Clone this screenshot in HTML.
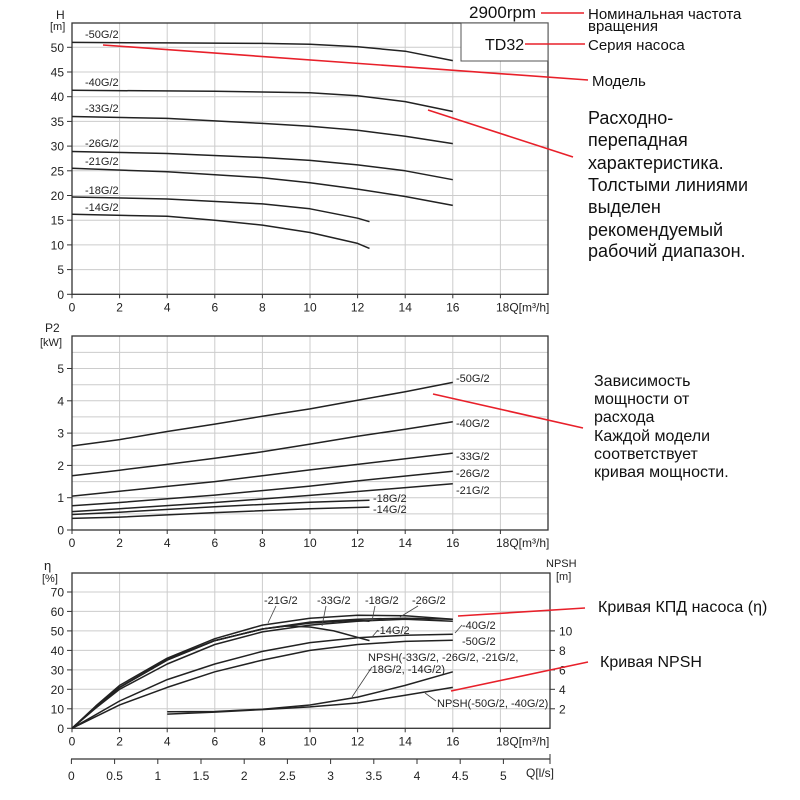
<!DOCTYPE html>
<html><head><meta charset="utf-8"><style>
body{margin:0;background:#fff}
svg{display:block;font-family:"Liberation Sans",Arial,sans-serif}
</style></head><body>
<svg width="800" height="800" viewBox="0 0 800 800" xmlns="http://www.w3.org/2000/svg">
<defs>
<g id="vg"><line x1="119.6" y1="0" x2="119.6" y2="1"/><line x1="167.2" y1="0" x2="167.2" y2="1"/><line x1="214.8" y1="0" x2="214.8" y2="1"/><line x1="262.4" y1="0" x2="262.4" y2="1"/><line x1="310" y1="0" x2="310" y2="1"/><line x1="357.6" y1="0" x2="357.6" y2="1"/><line x1="405.2" y1="0" x2="405.2" y2="1"/><line x1="452.8" y1="0" x2="452.8" y2="1"/><line x1="500.4" y1="0" x2="500.4" y2="1"/></g>
<g id="xt" font-size="12" fill="#222" text-anchor="middle">
<text x="72" y="17">0</text><text x="119.6" y="17">2</text><text x="167.2" y="17">4</text><text x="214.8" y="17">6</text><text x="262.4" y="17">8</text><text x="310" y="17">10</text><text x="357.6" y="17">12</text><text x="405.2" y="17">14</text><text x="452.8" y="17">16</text><text x="496" y="17" text-anchor="start">18Q[m³/h]</text>
<g stroke="#333"><line x1="72" y1="0" x2="72" y2="4"/><line x1="119.6" y1="0" x2="119.6" y2="4"/><line x1="167.2" y1="0" x2="167.2" y2="4"/><line x1="214.8" y1="0" x2="214.8" y2="4"/><line x1="262.4" y1="0" x2="262.4" y2="4"/><line x1="310" y1="0" x2="310" y2="4"/><line x1="357.6" y1="0" x2="357.6" y2="4"/><line x1="405.2" y1="0" x2="405.2" y2="4"/><line x1="452.8" y1="0" x2="452.8" y2="4"/><line x1="500.4" y1="0" x2="500.4" y2="4"/></g>
</g>
</defs>

<!-- TOP CHART -->
<g stroke="#ccc" stroke-width="1">
<use href="#vg" transform="translate(0,23) scale(1,271.3)"/>
<line x1="72" y1="269.6" x2="548" y2="269.6"/><line x1="72" y1="244.9" x2="548" y2="244.9"/><line x1="72" y1="220.2" x2="548" y2="220.2"/><line x1="72" y1="195.5" x2="548" y2="195.5"/><line x1="72" y1="170.8" x2="548" y2="170.8"/><line x1="72" y1="146.1" x2="548" y2="146.1"/><line x1="72" y1="121.4" x2="548" y2="121.4"/><line x1="72" y1="96.7" x2="548" y2="96.7"/><line x1="72" y1="72" x2="548" y2="72"/><line x1="72" y1="47.3" x2="548" y2="47.3"/>
</g>
<rect x="72" y="23" width="476" height="271.3" fill="none" stroke="#333" stroke-width="1.3"/>
<rect x="461" y="23" width="87" height="38" fill="#fff" stroke="#555"/>
<use href="#xt" transform="translate(0,294.3)"/>
<g font-size="12" fill="#222" text-anchor="end">
<text x="64" y="298.8">0</text><text x="64" y="274.1">5</text><text x="64" y="249.4">10</text><text x="64" y="224.7">15</text><text x="64" y="200">20</text><text x="64" y="175.3">25</text><text x="64" y="150.6">30</text><text x="64" y="125.9">35</text><text x="64" y="101.2">40</text><text x="64" y="76.5">45</text><text x="64" y="51.8">50</text>
</g>
<g stroke="#333"><line x1="67" y1="294.3" x2="72" y2="294.3"/><line x1="67" y1="269.6" x2="72" y2="269.6"/><line x1="67" y1="244.9" x2="72" y2="244.9"/><line x1="67" y1="220.2" x2="72" y2="220.2"/><line x1="67" y1="195.5" x2="72" y2="195.5"/><line x1="67" y1="170.8" x2="72" y2="170.8"/><line x1="67" y1="146.1" x2="72" y2="146.1"/><line x1="67" y1="121.4" x2="72" y2="121.4"/><line x1="67" y1="96.7" x2="72" y2="96.7"/><line x1="67" y1="72" x2="72" y2="72"/><line x1="67" y1="47.3" x2="72" y2="47.3"/></g>
<text x="56" y="19" font-size="12" fill="#222">H</text><text x="50" y="30" font-size="11" fill="#222">[m]</text>
<g fill="none" stroke="#222" stroke-width="1.5" stroke-linejoin="round">
<polyline points="72,42.4 167.2,42.9 262.4,43.4 310,44.3 357.6,46.8 405.2,51.2 452.8,60.6"/>
<polyline points="72,90.3 214.8,91.3 310,92.8 357.6,95.7 405.2,101.6 452.8,111.5"/>
<polyline points="72,116.5 167.2,118.4 262.4,123.4 310,126.3 357.6,130.3 405.2,136.2 452.8,143.6"/>
<polyline points="72,151.5 167.2,153.5 262.4,157.5 310,160.4 357.6,164.9 405.2,170.8 452.8,179.7"/>
<polyline points="72,168.3 167.2,171.8 262.4,177.7 310,182.7 357.6,189.1 405.2,196.5 452.8,205.4"/>
<polyline points="72,197 167.2,199 262.4,203.9 310,208.8 357.6,218.2 369.5,221.7"/>
<polyline points="72,214.3 167.2,216.3 214.8,220.2 262.4,225.1 310,232.5 357.6,243.4 369.5,248.4"/>
</g>
<g font-size="11" fill="#222">
<text x="85" y="38">-50G/2</text><text x="85" y="86">-40G/2</text><text x="85" y="112">-33G/2</text><text x="85" y="147">-26G/2</text><text x="85" y="165">-21G/2</text><text x="85" y="194">-18G/2</text><text x="85" y="211">-14G/2</text>
</g>

<!-- MIDDLE CHART -->
<g stroke="#ccc" stroke-width="1">
<use href="#vg" transform="translate(0,336) scale(1,194)"/>
<line x1="72" y1="513.9" x2="548" y2="513.9"/><line x1="72" y1="497.7" x2="548" y2="497.7"/><line x1="72" y1="481.6" x2="548" y2="481.6"/><line x1="72" y1="465.4" x2="548" y2="465.4"/><line x1="72" y1="449.3" x2="548" y2="449.3"/><line x1="72" y1="433.1" x2="548" y2="433.1"/><line x1="72" y1="416.9" x2="548" y2="416.9"/><line x1="72" y1="400.8" x2="548" y2="400.8"/><line x1="72" y1="384.7" x2="548" y2="384.7"/><line x1="72" y1="368.5" x2="548" y2="368.5"/><line x1="72" y1="352.4" x2="548" y2="352.4"/>
</g>
<rect x="72" y="336" width="476" height="194" fill="none" stroke="#333" stroke-width="1.3"/>
<use href="#xt" transform="translate(0,530)"/>
<g font-size="12" fill="#222" text-anchor="end">
<text x="64" y="534.5">0</text><text x="64" y="502.2">1</text><text x="64" y="469.9">2</text><text x="64" y="437.6">3</text><text x="64" y="405.3">4</text><text x="64" y="373">5</text>
</g>
<g stroke="#333"><line x1="67" y1="530" x2="72" y2="530"/><line x1="67" y1="497.7" x2="72" y2="497.7"/><line x1="67" y1="465.4" x2="72" y2="465.4"/><line x1="67" y1="433.1" x2="72" y2="433.1"/><line x1="67" y1="400.8" x2="72" y2="400.8"/><line x1="67" y1="368.5" x2="72" y2="368.5"/></g>
<text x="45" y="332" font-size="12" fill="#222">P2</text><text x="40" y="346" font-size="11" fill="#222">[kW]</text>
<g fill="none" stroke="#222" stroke-width="1.5" stroke-linejoin="round">
<polyline points="72,446 119.6,439.6 167.2,431.5 214.8,424.1 262.4,416.3 310,408.9 357.6,400.2 405.2,391.8 452.8,382.4"/>
<polyline points="72,475.7 119.6,470.2 167.2,464.4 214.8,458.3 262.4,451.8 310,444.1 357.6,436.3 405.2,429.2 452.8,421.8"/>
<polyline points="72,496.1 119.6,491.2 167.2,486.4 214.8,481.6 262.4,475.7 310,469.9 357.6,464.4 452.8,453.1"/>
<polyline points="72,505.8 119.6,502.5 214.8,495.1 310,486.1 357.6,480.9 452.8,471.2"/>
<polyline points="72,511.6 119.6,508.7 214.8,502.5 310,495.4 452.8,483.8"/>
<polyline points="72,514.5 119.6,512.2 214.8,506.7 310,502.2 369.5,500.3"/>
<polyline points="72,518.4 119.6,517.1 214.8,512.6 310,508.7 369.5,507.1"/>
</g>
<g font-size="11" fill="#222">
<text x="456" y="382">-50G/2</text><text x="456" y="427">-40G/2</text><text x="456" y="460">-33G/2</text><text x="456" y="477">-26G/2</text><text x="456" y="494">-21G/2</text><text x="373" y="502">-18G/2</text><text x="373" y="513">-14G/2</text>
</g>

<!-- BOTTOM CHART -->
<g stroke="#ccc" stroke-width="1">
<use href="#vg" transform="translate(0,573) scale(1,155.3)"/>
<line x1="72" y1="708.8" x2="550" y2="708.8"/><line x1="72" y1="689.3" x2="550" y2="689.3"/><line x1="72" y1="669.9" x2="550" y2="669.9"/><line x1="72" y1="650.4" x2="550" y2="650.4"/><line x1="72" y1="630.9" x2="550" y2="630.9"/><line x1="72" y1="611.4" x2="550" y2="611.4"/><line x1="72" y1="592" x2="550" y2="592"/>
</g>
<rect x="72" y="573" width="478" height="155.3" fill="none" stroke="#333" stroke-width="1.3"/>
<use href="#xt" transform="translate(0,728.3)"/>
<g font-size="12" fill="#222" text-anchor="end">
<text x="64" y="732.8">0</text><text x="64" y="713.3">10</text><text x="64" y="693.8">20</text><text x="64" y="674.4">30</text><text x="64" y="654.9">40</text><text x="64" y="635.4">50</text><text x="64" y="615.9">60</text><text x="64" y="596.5">70</text>
</g>
<g stroke="#333"><line x1="67" y1="728.3" x2="72" y2="728.3"/><line x1="67" y1="708.8" x2="72" y2="708.8"/><line x1="67" y1="689.3" x2="72" y2="689.3"/><line x1="67" y1="669.9" x2="72" y2="669.9"/><line x1="67" y1="650.4" x2="72" y2="650.4"/><line x1="67" y1="630.9" x2="72" y2="630.9"/><line x1="67" y1="611.4" x2="72" y2="611.4"/><line x1="67" y1="592" x2="72" y2="592"/>
<line x1="550" y1="708.8" x2="555" y2="708.8"/><line x1="550" y1="689.3" x2="555" y2="689.3"/><line x1="550" y1="669.9" x2="555" y2="669.9"/><line x1="550" y1="650.4" x2="555" y2="650.4"/><line x1="550" y1="630.9" x2="555" y2="630.9"/></g>
<g font-size="12" fill="#222">
<text x="559" y="713.3">2</text><text x="559" y="693.8">4</text><text x="559" y="674.4">6</text><text x="559" y="654.9">8</text><text x="559" y="635.4">10</text>
<text x="546" y="567" font-size="11">NPSH</text><text x="556" y="580" font-size="11">[m]</text>
<text x="44" y="570" font-size="13">η</text><text x="42" y="582" font-size="11">[%]</text>
</g>
<g fill="none" stroke="#222" stroke-width="1.5" stroke-linejoin="round">
<polyline points="72,728.3 95.8,706 119.6,685.4 167.2,658.2 214.8,638.7 262.4,625.1 310,618.2 357.6,615.3 405.2,615.7 452.8,619.2"/>
<polyline points="72,728.3 95.8,707 119.6,687.4 167.2,660.1 214.8,640.6 262.4,629 310,622.1 357.6,619.2 405.2,618.2 452.8,619.2"/>
<polyline points="72,728.3 95.8,707 119.6,687.4 167.2,659.1 214.8,640.6 262.4,629 310,623.1 357.6,620.2 369.5,621.2"/>
<polyline points="72,728.3 95.8,708 119.6,689.3 167.2,664 214.8,644.5 262.4,631.9 310,625.1 357.6,621.2 405.2,619.2 452.8,621.2"/>
<polyline points="72,728.3 95.8,707 119.6,687.4 167.2,660.1 214.8,640.6 262.4,629 286.2,626 310,627 333.8,630.9 369.5,640.6"/>
<polyline points="72,728.3 119.6,701 167.2,679.6 214.8,664 262.4,651.4 310,642.6 357.6,637.7 405.2,635.2 452.8,634.2"/>
<polyline points="72,728.3 119.6,704.9 167.2,687.4 214.8,671.8 262.4,660.1 310,650.4 357.6,644.5 405.2,641.4 452.8,640.3"/>
<polyline points="167.2,711.7 214.8,711.5 262.4,709.2 310,705 357.6,697.1 405.2,685.4 452.8,671.8"/>
<polyline points="167.2,714.1 214.8,712.1 262.4,709.6 310,706.9 357.6,703 405.2,695.2 452.8,687.4"/>
</g>
<g font-size="11" fill="#222">
<text x="264" y="604">-21G/2</text><text x="317" y="604">-33G/2</text><text x="365" y="604">-18G/2</text><text x="412" y="604">-26G/2</text>
<text x="462" y="629">-40G/2</text><text x="462" y="645">-50G/2</text><text x="376" y="634">-14G/2</text>
<text x="368" y="661">NPSH(-33G/2, -26G/2, -21G/2,</text><text x="368" y="673">-18G/2, -14G/2)</text><text x="437" y="707">NPSH(-50G/2, -40G/2)</text>
</g>
<g stroke="#444" stroke-width="0.8">
<line x1="276" y1="606" x2="268" y2="623"/><line x1="326" y1="606" x2="322" y2="626"/><line x1="375" y1="606" x2="372" y2="621"/><line x1="418" y1="606" x2="400" y2="617"/><line x1="462" y1="625" x2="455" y2="633"/><line x1="378" y1="630" x2="372" y2="637"/><line x1="372" y1="667" x2="352" y2="697"/><line x1="436" y1="701" x2="425" y2="693"/>
</g>

<!-- l/s axis -->
<line x1="71" y1="759" x2="550" y2="759" stroke="#333" stroke-width="1.2"/>
<g stroke="#333"><line x1="71.4" y1="759" x2="71.4" y2="764"/><line x1="114.6" y1="759" x2="114.6" y2="764"/><line x1="157.8" y1="759" x2="157.8" y2="764"/><line x1="201" y1="759" x2="201" y2="764"/><line x1="244.2" y1="759" x2="244.2" y2="764"/><line x1="287.4" y1="759" x2="287.4" y2="764"/><line x1="330.6" y1="759" x2="330.6" y2="764"/><line x1="373.8" y1="759" x2="373.8" y2="764"/><line x1="417" y1="759" x2="417" y2="764"/><line x1="460.2" y1="759" x2="460.2" y2="764"/><line x1="503.4" y1="759" x2="503.4" y2="764"/><line x1="550" y1="754" x2="550" y2="764"/></g>
<g font-size="12" fill="#222" text-anchor="middle">
<text x="71.4" y="780">0</text><text x="114.6" y="780">0.5</text><text x="157.8" y="780">1</text><text x="201" y="780">1.5</text><text x="244.2" y="780">2</text><text x="287.4" y="780">2.5</text><text x="330.6" y="780">3</text><text x="373.8" y="780">3.5</text><text x="417" y="780">4</text><text x="460.2" y="780">4.5</text><text x="503.4" y="780">5</text>
<text x="540" y="777">Q[l/s]</text>
</g>

<!-- annotations -->
<g font-size="15" fill="#111">
<text x="469" y="18" font-size="17">2900rpm</text>
<text x="588" y="19">Номинальная частота</text>
<text x="588" y="31">вращения</text>
<text x="485" y="50" font-size="16">TD32</text>
<text x="588" y="50">Серия насоса</text>
<text x="592" y="86">Модель</text>
<g font-size="18">
<text x="588" y="124">Расходно-</text>
<text x="588" y="146">перепадная</text>
<text x="588" y="169">характеристика.</text>
<text x="588" y="191">Толстыми линиями</text>
<text x="588" y="213">выделен</text>
<text x="588" y="236">рекомендуемый</text>
<text x="588" y="257">рабочий диапазон.</text>
</g>
<g font-size="16">
<text x="594" y="386">Зависимость</text>
<text x="594" y="404">мощности от</text>
<text x="594" y="422">расхода</text>
<text x="594" y="441">Каждой модели</text>
<text x="594" y="459">соответствует</text>
<text x="594" y="477">кривая мощности.</text>
<text x="598" y="612">Кривая КПД насоса (η)</text>
<text x="600" y="667">Кривая NPSH</text>
</g>
</g>
<g stroke="#e8202a" stroke-width="1.6" fill="none">
<line x1="541" y1="13" x2="584" y2="13"/>
<line x1="525" y1="44" x2="585" y2="44"/>
<line x1="103" y1="45" x2="588" y2="80"/>
<line x1="428" y1="110" x2="573" y2="157"/>
<line x1="433" y1="394" x2="583" y2="428"/>
<line x1="458" y1="616" x2="585" y2="608"/>
<line x1="451" y1="691" x2="588" y2="662"/>
</g>
</svg>
</body></html>
